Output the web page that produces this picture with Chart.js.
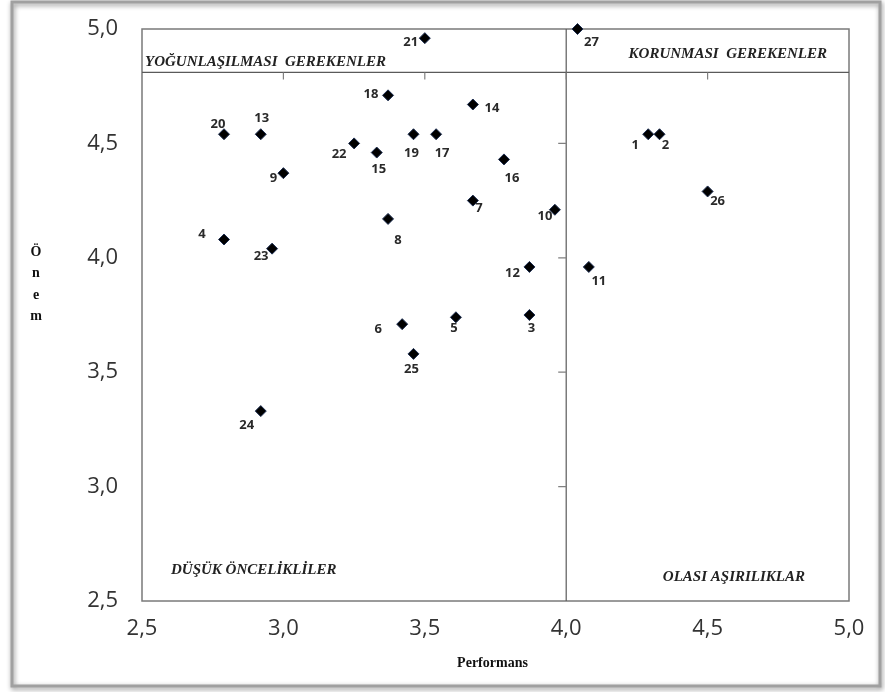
<!DOCTYPE html>
<html>
<head>
<meta charset="utf-8">
<script src="https://cdn.jsdelivr.net/npm/chart.js@4.4.0/dist/chart.umd.min.js"></script>
<style>
  html, body { margin: 0; padding: 0; background: #fff; }
  #wrap { width: 885px; height: 692px; position: relative; }
</style>
</head>
<body>
<div id="wrap"><canvas id="c"></canvas></div>
<script>
'use strict';
// madde numaraları ve değerler
const maddeler = [1, 2, 3, 4, 5, 6, 7, 8, 9, 10, 11, 12, 13, 14, 15, 16, 17, 18, 19, 20, 21, 22, 23, 24, 25, 26, 27];
const performans = [4.29, 4.33, 3.87, 2.79, 3.61, 3.42, 3.67, 3.37, 3.00, 3.96, 4.08, 3.87, 2.92, 3.67, 3.33, 3.78, 3.54, 3.37, 3.46, 2.79, 3.50, 3.25, 2.96, 2.92, 3.46, 4.50, 4.04];
const onem = [4.54, 4.54, 3.75, 4.08, 3.74, 3.71, 4.25, 4.17, 4.37, 4.21, 3.96, 3.96, 4.54, 4.67, 4.46, 4.43, 4.54, 4.71, 4.54, 4.54, 4.96, 4.50, 4.04, 3.33, 3.58, 4.29, 5.00];
const eksenTicks = [2.5, 3.0, 3.5, 4.0, 4.5, 5.0];
const ortPerformans = 4.0;
const ortOnem = 4.81;
const bolgeler = ['YOĞUNLAŞILMASI  GEREKENLER', 'KORUNMASI  GEREKENLER', 'DÜŞÜK ÖNCELİKLİLER', 'OLASI AŞIRILIKLAR'];

// etiketlerin noktaya göre kayması (px)
const labelOffsets = [
  [-13, 11], [6, 11], [2, 13], [-22, -5], [-2, 11], [-24, 5], [6, 8], [10, 21], [-10, 5], [-10, 7],
  [10, 14], [-17, 6], [1, -16], [19, 4], [2, 17], [8, 19], [6, 19], [-17, -1], [-2, 19], [-6, -10],
  [-14, 4], [-15, 11], [-11, 8], [-14, 14], [-2, 15], [10, 10], [14, 13]
];

const fmt = v => Number(v).toFixed(1).replace('.', ',');

const ipaPlugin = {
  id: 'ipa',
  beforeDraw(chart) {
    const ctx = chart.ctx;
    ctx.save();
    ctx.shadowColor = 'rgba(0,0,0,0.45)';
    ctx.shadowBlur = 5;
    ctx.shadowOffsetX = 1;
    ctx.shadowOffsetY = 2;
    ctx.strokeStyle = '#a0a0a0';
    ctx.lineWidth = 3;
    ctx.strokeRect(12, 2, 868, 684);
    ctx.restore();
  },
  beforeDatasetsDraw(chart) {
    const { ctx, chartArea: a, scales: { x, y } } = chart;
    ctx.save();
    ctx.strokeStyle = '#7a7a7a';
    ctx.lineWidth = 1.5;
    ctx.strokeRect(a.left, a.top, a.right - a.left, a.bottom - a.top);
    const vx = x.getPixelForValue(ortPerformans);
    const hy = y.getPixelForValue(ortOnem);
    ctx.strokeStyle = '#5a5a5a';
    ctx.lineWidth = 1.2;
    ctx.beginPath();
    ctx.moveTo(vx, a.top); ctx.lineTo(vx, a.bottom);
    ctx.moveTo(a.left, hy); ctx.lineTo(a.right, hy);
    ctx.stroke();
    // ekseni kesen çizgilerdeki tik işaretleri
    ctx.strokeStyle = '#808080';
    ctx.beginPath();
    eksenTicks.slice(1, -1).forEach(t => {
      const px = x.getPixelForValue(t);
      ctx.moveTo(px, hy); ctx.lineTo(px, hy + 7);
      const py = y.getPixelForValue(t);
      ctx.moveTo(vx - 8, py); ctx.lineTo(vx, py);
    });
    ctx.stroke();

    ctx.fillStyle = '#222';
    ctx.font = 'italic bold 15px "Liberation Serif", "DejaVu Serif", serif';
    ctx.textBaseline = 'middle';
    ctx.textAlign = 'left';
    ctx.fillText(bolgeler[0], a.left + 3, hy - 10);
    ctx.textAlign = 'right';
    ctx.fillText(bolgeler[1], a.right - 22, a.top + 25);
    ctx.textAlign = 'left';
    ctx.fillText(bolgeler[2], a.left + 29, a.bottom - 31);
    ctx.textAlign = 'right';
    ctx.fillText(bolgeler[3], a.right - 44, a.bottom - 24);
    ctx.restore();
  },
  afterDatasetsDraw(chart) {
    const { ctx, chartArea: a } = chart;
    const meta = chart.getDatasetMeta(0);
    ctx.save();
    ctx.fillStyle = '#2a2a2a';
    ctx.font = 'bold 13px "Open Sans", "Liberation Sans", sans-serif';
    ctx.textAlign = 'center';
    ctx.textBaseline = 'middle';
    meta.data.forEach((pt, i) => {
      const off = labelOffsets[i];
      ctx.fillText(String(maddeler[i]), pt.x + off[0], pt.y + off[1]);
    });
    // eksen başlıkları
    ctx.fillStyle = '#111';
    ctx.font = 'bold 14px "Liberation Serif", "DejaVu Serif", serif';
    ctx.fillText('Performans', (a.left + a.right) / 2 - 3, 663);
    ['Ö', 'n', 'e', 'm'].forEach((ch, i) => ctx.fillText(ch, 36, 252 + i * 21.5));
    ctx.restore();
  }
};

const tickFont = { family: '"Open Sans", "Liberation Sans", sans-serif', size: 22 };

new Chart(document.getElementById('c'), {
  type: 'scatter',
  data: {
    datasets: [{
      label: 'Maddeler',
      data: performans.map((p, i) => ({ x: p, y: onem[i] })),
      pointStyle: 'rectRot',
      pointRadius: 5.5,
      pointHoverRadius: 5.5,
      backgroundColor: '#000',
      borderColor: '#1c2d50',
      borderWidth: 1,
      clip: false
    }]
  },
  options: {
    responsive: true,
    maintainAspectRatio: false,
    animation: false,
    layout: { padding: { top: 29, right: 36, left: 0, bottom: 0 } },
    plugins: { legend: { display: false }, tooltip: { enabled: false } },
    scales: {
      x: {
        type: 'linear', min: 2.5, max: 5,
        afterBuildTicks: s => { s.ticks = eksenTicks.map(v => ({ value: v })); },
        afterFit: s => { s.height = 91; s.paddingLeft = 0; s.paddingRight = 0; },
        ticks: { font: tickFont, color: '#333', padding: 15, callback: fmt, maxRotation: 0 },
        grid: { display: false, drawTicks: false },
        border: { display: false }
      },
      y: {
        type: 'linear', min: 2.5, max: 5,
        afterBuildTicks: s => { s.ticks = eksenTicks.map(v => ({ value: v })); },
        afterFit: s => { s.width = 142; s.paddingTop = 0; s.paddingBottom = 0; },
        ticks: { font: tickFont, color: '#333', padding: 24, callback: fmt },
        grid: { display: false, drawTicks: false },
        border: { display: false }
      }
    }
  },
  plugins: [ipaPlugin]
});
</script>
</body>
</html>
